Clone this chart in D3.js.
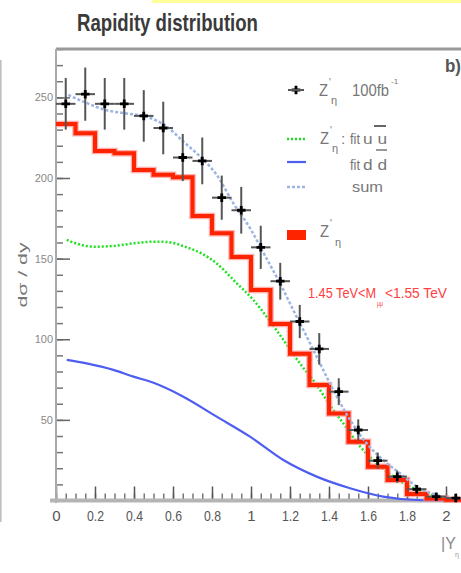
<!DOCTYPE html>
<html>
<head>
<meta charset="utf-8">
<script src="https://cdn.jsdelivr.net/npm/d3@7"></script>
<style>
  body { margin: 0; background: #fff; }
  svg { display: block; font-family: "Liberation Sans", Arial, sans-serif; }
</style>
</head>
<body>
<svg id="chart" width="461" height="573"></svg>
<script>
// pseudo-data, Z' 100 fb-1 (bin centres, counts, errors)
const dataX = [0.05, 0.15, 0.25, 0.35, 0.45, 0.55, 0.65, 0.75, 0.85, 0.95, 1.05,
               1.15, 1.25, 1.35, 1.45, 1.55, 1.65, 1.75, 1.85, 1.95, 2.05];
const dataVal = [246, 252, 246, 246, 238.5, 231, 212.7, 210.6, 187.8, 180, 157,
                 136, 111, 94, 67.5, 43.7, 24.7, 14.8, 7, 2.4, 1.5];
const dataErr = [16, 16.5, 16, 16, 16, 16.3, 14.6, 14.5, 13.7, 14.5, 13.4,
                 11.4, 10.3, 9.8, 8.3, 6.6, 5, 3.8, 2.6, 1.5, 1.2];

// red histogram (Z' generator level)
const histEdges = [0, 0.1, 0.2, 0.3, 0.4, 0.5, 0.6, 0.7, 0.8, 0.9, 1.0,
                   1.1, 1.2, 1.3, 1.4, 1.5, 1.6, 1.7, 1.8, 1.9, 2.0, 2.1];
const histVal = [233.5, 227.8, 216.8, 215.4, 205, 202, 200.5, 176.5, 165.7, 151, 130.5,
                 109.5, 91, 71.6, 54, 36.5, 21, 12.7, 4, 1.3, 0.5];

// fits
const uuX = [0.055, 0.1, 0.2, 0.3, 0.4, 0.5, 0.57, 0.67, 0.75, 0.824, 0.927, 1.012, 1.08,
             1.166, 1.251, 1.337, 1.405, 1.473, 1.56, 1.645, 1.73, 1.815, 1.9, 1.986];
const uuY = [161.6, 159.5, 157.4, 157.9, 159.5, 160.5, 160.3, 157, 153, 147, 134.7, 124.4, 114,
             99.6, 85, 71.6, 59, 47.9, 33.4, 23, 14.8, 8.6, 4.5, 1.5];

const ddX = [0.055, 0.157, 0.294, 0.397, 0.5, 0.653, 0.824, 0.995, 1.166, 1.337, 1.508, 1.678, 1.85, 2.05];
const ddY = [87.2, 85, 81, 76.8, 73, 64.4, 52, 39.6, 25.1, 14.8, 7.6, 2.4, 0.3, 0];

const sumX = [0.063, 0.14, 0.26, 0.362, 0.465, 0.568, 0.653, 0.739, 0.824, 0.909, 0.995, 1.08,
              1.149, 1.217, 1.286, 1.354, 1.422, 1.508, 1.593, 1.678, 1.764, 1.85, 1.952, 2.05];
const sumY = [251.5, 247.4, 242, 240, 238, 231.9, 222.6, 213.3, 202, 184.4, 168.9, 150,
              134.7, 118, 101.6, 85, 68.5, 50, 35.5, 25, 16.9, 8.6, 3.4, 1];

const xTickVals = [0, 0.2, 0.4, 0.6, 0.8, 1, 1.2, 1.4, 1.6, 1.8, 2];
const yTickVals = [50, 100, 150, 200, 250];

const svg = d3.select("#chart");
const x = d3.scaleLinear().domain([0, 2.1]).range([56, 465.5]);
const y = d3.scaleLinear().domain([0, 280]).range([500.5, 49]);

// bits of the page around the panel
svg.append("rect").attr("x", 152).attr("y", 0).attr("width", 309).attr("height", 3).attr("fill", "#ffff99");
svg.append("line").attr("x1", 0.8).attr("x2", 0.8).attr("y1", 60).attr("y2", 522)
  .attr("stroke", "#bbb").attr("stroke-width", 1.5);

svg.append("text")
  .attr("x", 77).attr("y", 31)
  .attr("font-size", 24).attr("font-weight", "bold").attr("fill", "#3a3a3a")
  .attr("textLength", 181).attr("lengthAdjust", "spacingAndGlyphs")
  .text("Rapidity distribution");

// ticks (inside the frame)
const xMinor = d3.range(0, 2.11, 0.05);
svg.append("g").attr("transform", `translate(0,${y(0)})`)
  .call(d3.axisBottom(x).tickValues(xMinor).tickSize(-7).tickSizeOuter(0).tickFormat(""))
  .call(g => g.select(".domain").remove())
  .call(g => g.selectAll("line").attr("stroke", "#777").attr("stroke-width", 1.5));

svg.append("g").attr("transform", `translate(0,${y(0)})`)
  .call(d3.axisBottom(x).tickValues(xTickVals).tickSize(-14).tickSizeOuter(0).tickPadding(10)
    .tickFormat(d => d3.format("~g")(d)))
  .call(g => g.select(".domain").remove())
  .call(g => g.selectAll("line").attr("stroke", "#555").attr("stroke-width", 1.5))
  .call(g => g.selectAll("text").attr("font-size", 15).attr("fill", "#555")
    .attr("font-family", "Liberation Sans, Arial, sans-serif")
    .each(function(d) { if (String(d).length > 1) d3.select(this).attr("textLength", 17).attr("lengthAdjust", "spacingAndGlyphs"); }));

const yMinor = d3.range(0, 281, 10);
svg.append("g").attr("transform", `translate(${x(0)},0)`)
  .call(d3.axisLeft(y).tickValues(yMinor).tickSize(-7).tickSizeOuter(0).tickFormat(""))
  .call(g => g.select(".domain").remove())
  .call(g => g.selectAll("line").attr("stroke", "#777").attr("stroke-width", 1.5));

svg.append("g").attr("transform", `translate(${x(0)},0)`)
  .call(d3.axisLeft(y).tickValues(yTickVals).tickSize(-14).tickSizeOuter(0).tickPadding(3))
  .call(g => g.select(".domain").remove())
  .call(g => g.selectAll("line").attr("stroke", "#666").attr("stroke-width", 1.5))
  .call(g => g.selectAll("text").attr("font-size", 11).attr("fill", "#888")
    .attr("font-family", "Liberation Sans, Arial, sans-serif"));

// frame / axis lines
svg.append("line").attr("x1", x(0)).attr("x2", 461).attr("y1", y(280)).attr("y2", y(280))
  .attr("stroke", "#999").attr("stroke-width", 3);
svg.append("line").attr("x1", x(0)).attr("x2", x(0)).attr("y1", y(280)).attr("y2", 503)
  .attr("stroke", "#aaa").attr("stroke-width", 2);
svg.append("line").attr("x1", 50).attr("x2", 461).attr("y1", y(0)).attr("y2", y(0))
  .attr("stroke", "#b5b5b5").attr("stroke-width", 4);

// axis titles
svg.append("text")
  .attr("transform", "translate(27,275) rotate(-90)")
  .attr("text-anchor", "middle").attr("font-size", 13).attr("fill", "#777")
  .attr("textLength", 65).attr("lengthAdjust", "spacingAndGlyphs")
  .text("dσ / dy");
svg.append("text").attr("x", 441).attr("y", 549).attr("font-size", 16).attr("fill", "#888").text("|Y");
svg.append("text").attr("x", 455).attr("y", 557).attr("font-size", 7).attr("fill", "#999").text("η");

// curves
const line = (xs, ys) => d3.line().x((d, i) => x(xs[i])).y((d, i) => y(ys[i])).curve(d3.curveMonotoneX)(xs);

svg.append("path").attr("d", line(ddX, ddY))
  .attr("fill", "none").attr("stroke", "#4d5ef0").attr("stroke-width", 2.2);

svg.append("path").attr("d", line(uuX, uuY))
  .attr("fill", "none").attr("stroke", "#1ee01e").attr("stroke-width", 2.5).attr("stroke-dasharray", "2,2");

// histogram
const histPts = histVal.map((v, i) => [histEdges[i], v]).concat([[histEdges[histEdges.length - 1], histVal[histVal.length - 1]]]);
const stepLine = d3.line().x(d => x(d[0])).y(d => y(d[1])).curve(d3.curveStepAfter);
svg.append("path").attr("d", stepLine(histPts))
  .attr("fill", "none").attr("stroke", "#ff8c8c").attr("stroke-width", 6.5).attr("opacity", 0.7);
svg.append("path").attr("d", stepLine(histPts))
  .attr("fill", "none").attr("stroke", "#ff2400").attr("stroke-width", 4);

svg.append("path").attr("d", line(sumX, sumY))
  .attr("fill", "none").attr("stroke", "#9db5e2").attr("stroke-width", 2.5).attr("stroke-dasharray", "3,2");

// pseudo-data points
const pts = svg.append("g").selectAll("g").data(dataX).join("g");
pts.append("line")
  .attr("x1", (d, i) => x(d)).attr("x2", (d, i) => x(d))
  .attr("y1", (d, i) => y(dataVal[i] - dataErr[i])).attr("y2", (d, i) => y(dataVal[i] + dataErr[i]))
  .attr("stroke", "#555").attr("stroke-width", 2);
pts.append("line")
  .attr("x1", d => x(d - 0.05)).attr("x2", d => x(d + 0.05))
  .attr("y1", (d, i) => y(dataVal[i])).attr("y2", (d, i) => y(dataVal[i]))
  .attr("stroke", "#555").attr("stroke-width", 2);
pts.append("path")
  .attr("transform", (d, i) => `translate(${x(d)},${y(dataVal[i])})`)
  .attr("d", d3.symbol(d3.symbolCross, 40)())
  .attr("fill", "#000");

// legend
const lg = svg.append("g");
lg.append("path").attr("transform", "translate(296,90)").attr("d", d3.symbol(d3.symbolCross, 40)()).attr("fill", "#000");
lg.append("line").attr("x1", 288).attr("x2", 304).attr("y1", 90).attr("y2", 90).attr("stroke", "#555").attr("stroke-width", 2);
lg.append("line").attr("x1", 287).attr("x2", 306).attr("y1", 139).attr("y2", 139)
  .attr("stroke", "#1ee01e").attr("stroke-width", 2.5).attr("stroke-dasharray", "2,2");
lg.append("line").attr("x1", 287).attr("x2", 306).attr("y1", 162).attr("y2", 162)
  .attr("stroke", "#4d5ef0").attr("stroke-width", 2.2);
lg.append("line").attr("x1", 287).attr("x2", 306).attr("y1", 187).attr("y2", 187)
  .attr("stroke", "#9db5e2").attr("stroke-width", 2.5).attr("stroke-dasharray", "3,2");
lg.append("rect").attr("x", 287).attr("y", 230).attr("width", 19).attr("height", 10).attr("fill", "#ff2400");

const txt = (xx, yy, s, size, len, col) => {
  const t = lg.append("text").attr("x", xx).attr("y", yy).attr("font-size", size).attr("fill", col || "#777").text(s);
  if (len) t.attr("textLength", len).attr("lengthAdjust", "spacingAndGlyphs");
  return t;
};
// row 1
txt(319, 96, "Z", 16, 9);
txt(329, 86, "'", 10);
txt(331, 104, "η", 11);
txt(352, 96, "100fb", 16, 37);
txt(391, 84, "-1", 8);
// row 2
txt(320, 144, "Z", 16, 9);
txt(330, 134, "'", 10);
txt(332, 152, "η", 11);
txt(341, 144, ":", 15);
txt(350, 144, "fit", 15, 10);
txt(363, 144, "u u", 15, 24);
lg.append("line").attr("x1", 374).attr("x2", 386).attr("y1", 126).attr("y2", 126).attr("stroke", "#333").attr("stroke-width", 1.5);
// row 3
txt(350, 170, "fit", 15, 10);
txt(363, 170, "d d", 15, 24);
lg.append("line").attr("x1", 376).attr("x2", 387).attr("y1", 150).attr("y2", 150).attr("stroke", "#777").attr("stroke-width", 1.5);
// row 4
txt(352, 192, "sum", 15, 31);
// row 5
txt(320, 237, "Z", 16, 9);
txt(330, 227, "'", 10);
txt(335, 246, "η", 11);

// mass window
txt(308, 298, "1.45 TeV<M", 15, 68, "#ff4040");
txt(377, 306, "μμ", 7, 6, "#ff4040");
txt(385, 298, "<1.55 TeV", 15, 62, "#ff4040");

svg.append("text").attr("x", 445).attr("y", 72).attr("font-size", 18).attr("font-weight", "bold")
  .attr("fill", "#555").attr("textLength", 16).attr("lengthAdjust", "spacingAndGlyphs").text("b)");
</script>
</body>
</html>
